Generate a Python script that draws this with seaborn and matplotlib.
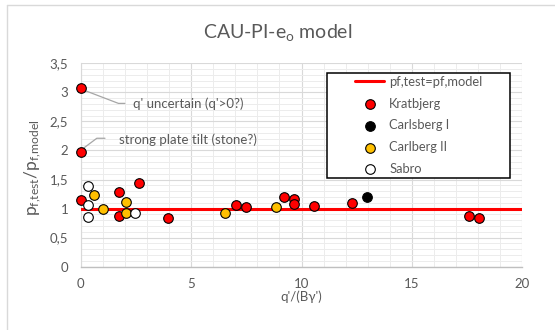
import matplotlib
matplotlib.use('Agg')
import matplotlib.pyplot as plt
import seaborn as sns
from matplotlib.ticker import MultipleLocator, FuncFormatter
from matplotlib.patches import Rectangle
from matplotlib.lines import Line2D

# ---------------- data ----------------
title = "CAU-PI-e$_\\mathrm{o}$ model"
x_label = "q'/(B\u03b3')"
y_label = "$\\mathrm{p_{f{,}test}/p_{f{,}model}}$"

ref_label = "pf,test=pf,model"
ref_x = [0, 20]
ref_y = [1, 1]

kratbjerg_label = "Kratbjerg"
kratbjerg_x = [0, 0, 0, 1.74, 1.74, 2.64, 3.96, 7.04, 7.48, 9.21, 9.66, 9.66, 10.55, 12.30, 17.58, 18.02]
kratbjerg_y = [3.08, 1.98, 1.14, 1.28, 0.88, 1.44, 0.84, 1.07, 1.02, 1.20, 1.16, 1.08, 1.05, 1.09, 0.88, 0.83]

carlsberg1_label = "Carlsberg I"
carlsberg1_x = [12.98]
carlsberg1_y = [1.20]

carlberg2_label = "Carlberg II"
carlberg2_x = [0.60, 1.01, 2.04, 2.04, 6.53, 8.84]
carlberg2_y = [1.23, 0.99, 1.12, 0.92, 0.92, 1.03]

sabro_label = "Sabro"
sabro_x = [0.32, 0.32, 0.32, 2.48]
sabro_y = [1.39, 1.07, 0.86, 0.92]

note1 = "q' uncertain (q'>0?)"
note2 = "strong plate tilt (stone?)"

x_ticks = [0, 5, 10, 15, 20]
y_ticks = [0, 0.5, 1, 1.5, 2, 2.5, 3, 3.5]

# ---------------- style ----------------
sns.set_theme(style='white')
plt.rcParams['font.family'] = ['Lato', 'DejaVu Sans']
plt.rcParams['mathtext.fontset'] = 'custom'
plt.rcParams['mathtext.rm'] = 'Lato'
plt.rcParams['mathtext.it'] = 'Lato:italic'
plt.rcParams['mathtext.bf'] = 'Lato:bold'
TXT = '#595959'

fig = plt.figure(figsize=(5.55, 3.3), dpi=100)
ax = fig.add_axes([0.1454, 0.1918, 0.7957, 0.6164])

# chart border (left/top visible)
fig.add_artist(Line2D([7/555, 7/555], [0, 1 - 5/330], transform=fig.transFigure, color='#d9d9d9', lw=1))
fig.add_artist(Line2D([7/555, 1], [1 - 5/330, 1 - 5/330], transform=fig.transFigure, color='#d9d9d9', lw=1))

sns.lineplot(x=ref_x, y=ref_y, color='#ff0000', lw=2.2, label=ref_label, ax=ax, zorder=3)

mk = dict(edgecolor='black', linewidth=0.8, s=48, ax=ax, zorder=4, clip_on=False)
sns.scatterplot(x=kratbjerg_x, y=kratbjerg_y, color='#ff0000', label=kratbjerg_label, **mk)
sns.scatterplot(x=carlsberg1_x, y=carlsberg1_y, color='#000000', label=carlsberg1_label, **mk)
sns.scatterplot(x=carlberg2_x, y=carlberg2_y, color='#ffc000', label=carlberg2_label, **mk)
sns.scatterplot(x=sabro_x, y=sabro_y, color='#ffffff', label=sabro_label, **mk)

ax.set_xlim(0, 20)
ax.set_ylim(0, 3.5)
ax.set_xticks(x_ticks)
ax.set_yticks(y_ticks)
ax.xaxis.set_minor_locator(MultipleLocator(1))
ax.yaxis.set_minor_locator(MultipleLocator(0.1))
ax.yaxis.set_major_formatter(FuncFormatter(lambda v, p: ('%g' % v).replace('.', ',')))
ax.grid(which='major', color='#d9d9d9', lw=0.8, zorder=0)
ax.grid(which='minor', color='#ececec', lw=0.7, zorder=0)
ax.set_axisbelow(True)
ax.tick_params(axis='both', which='both', length=0, labelsize=9.5, labelcolor=TXT)
ax.tick_params(axis='x', pad=8)
ax.tick_params(axis='y', pad=9)
for s in ['top', 'right']:
    ax.spines[s].set_visible(False)
ax.spines['bottom'].set_color('#bfbfbf')
ax.spines['bottom'].set_linewidth(1)
ax.spines['left'].set_color('#d9d9d9')
ax.spines['left'].set_linewidth(0.8)

ax.set_xlabel(x_label, fontsize=9.5, color=TXT)
ax.xaxis.set_label_coords(0.5, -0.115)
ax.set_ylabel(y_label, fontsize=12.5, color=TXT)
ax.yaxis.set_label_coords(-0.085, 0.485)

fig.text(0.5, 0.903, title, ha='center', va='center', fontsize=14, color=TXT)

# annotations with leader lines
ax.plot([0.06, 1.71, 2.0], [3.05, 2.81, 2.81], color='#a6a6a6', lw=0.9, zorder=2, clip_on=False)
ax.text(2.37, 2.80, note1, fontsize=9.5, color=TXT, va='center', ha='left')
ax.plot([0.06, 0.73, 1.1], [2.02, 2.21, 2.21], color='#a6a6a6', lw=0.9, zorder=2, clip_on=False)
ax.text(1.74, 2.19, note2, fontsize=9.5, color=TXT, va='center', ha='left')

# legend
ax.add_patch(Rectangle((0.558, 0.4376), 0.413, 0.5134, transform=ax.transAxes,
                       facecolor='white', edgecolor='black', lw=1.1, zorder=5, clip_on=False))
h, l = ax.get_legend_handles_labels()
leg = ax.legend(h, l, loc='upper left', bbox_to_anchor=(0.621, 0.9376), frameon=False,
                borderpad=0, borderaxespad=0, handlelength=2.27, handletextpad=0.38,
                labelspacing=0.75, fontsize=9.3, labelcolor=TXT)
leg.set_zorder(6)

fig.savefig('out.png', dpi=100)
